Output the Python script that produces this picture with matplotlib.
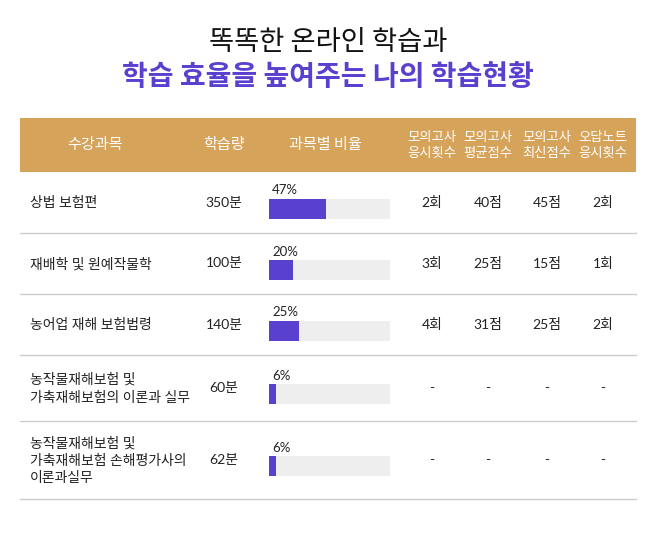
import matplotlib.pyplot as plt
from matplotlib.patches import Rectangle

plt.rcParams['font.family'] = ['Noto Sans CJK KR', 'DejaVu Sans']

TITLE_1 = "똑똑한 온라인 학습과"
TITLE_2 = "학습 효율을 높여주는 나의 학습현황"

HEADERS = ["수강과목", "학습량", "과목별 비율",
           "모의고사\n응시횟수", "모의고사\n평균점수", "모의고사\n최신점수", "오답노트\n응시횟수"]

SUBJECTS = [
    "상법 보험편",
    "재배학 및 원예작물학",
    "농어업 재해 보험법령",
    "농작물재해보험 및\n가축재해보험의 이론과 실무",
    "농작물재해보험 및\n가축재해보험 손해평가사의\n이론과실무",
]
MINUTES = [350, 100, 140, 60, 62]
SHARE = [47, 20, 25, 6, 6]
MOCK_COUNT = ["2회", "3회", "4회", "-", "-"]
MOCK_AVG = ["40점", "25점", "31점", "-", "-"]
MOCK_LATEST = ["45점", "15점", "25점", "-", "-"]
NOTE_COUNT = ["2회", "1회", "2회", "-", "-"]

# layout in pixels
W, H = 656, 540
LEFT, RIGHT = 20, 636
HEAD_TOP, HEAD_BOT = 118, 172
ROW_EDGES = [172, 233, 294, 355, 421, 499]
COL_X = [30, 224, 325, 432, 488, 547, 603]
BAR_X0, BAR_W, BAR_H = 269, 121, 20

PURPLE = "#5a40cf"
GOLD = "#d6a35a"
BODY = ["Lato", "Noto Sans CJK KR"]

fig = plt.figure(figsize=(W / 100, H / 100), dpi=100)
ax = fig.add_axes([0, 0, 1, 1])
ax.set_xlim(0, W)
ax.set_ylim(H, 0)
ax.axis("off")

ax.text(W / 2, 43, TITLE_1, ha="center", va="center", fontsize=19.7, color="#111111")
ax.text(W / 2, 77, TITLE_2, ha="center", va="center", fontsize=20.2,
        fontweight="bold", color=PURPLE)

# header band
ax.add_patch(Rectangle((LEFT, HEAD_TOP), RIGHT - LEFT, HEAD_BOT - HEAD_TOP,
                       facecolor=GOLD, edgecolor="none"))
head_y = (HEAD_TOP + HEAD_BOT) / 2
for i, h in enumerate(HEADERS):
    x = 95 if i == 0 else COL_X[i]
    small = "\n" in h
    ax.text(x, head_y, h, ha="center", va="center", color="white",
            fontsize=9.6 if small else 10.9, linespacing=1.15)

centers = [(a + b) / 2 for a, b in zip(ROW_EDGES[:-1], ROW_EDGES[1:])]

# row separators
for y in ROW_EDGES[1:]:
    ax.plot([LEFT, RIGHT], [y, y], color="#cccccc", lw=1)

# bars: background track and filled share
bar_y = [c + 6 for c in centers]
ax.barh(bar_y, [BAR_W] * len(SHARE), height=BAR_H, left=BAR_X0,
        color="#eeeeee", edgecolor="none")
ax.barh(bar_y, [s / 100 * BAR_W for s in SHARE], height=BAR_H, left=BAR_X0,
        color=PURPLE, edgecolor="none")

for i, c in enumerate(centers):
    ax.text(COL_X[0], c, SUBJECTS[i], ha="left", va="center", fontsize=10,
            color="#222222", family=BODY, linespacing=1.4)
    ax.text(COL_X[1], c, f"{MINUTES[i]}분", ha="center", va="center",
            fontsize=10, color="#222222", family=BODY)
    ax.text(BAR_X0 + 3, bar_y[i] - 18, f"{SHARE[i]}%", ha="left", va="center",
            fontsize=9.5, color="#222222", family=BODY)
    for j, col in enumerate([MOCK_COUNT, MOCK_AVG, MOCK_LATEST, NOTE_COUNT]):
        ax.text(COL_X[3 + j], c, col[i], ha="center", va="center",
                fontsize=10, color="#222222", family=BODY)

fig.savefig("out.png", dpi=100, facecolor="white")
